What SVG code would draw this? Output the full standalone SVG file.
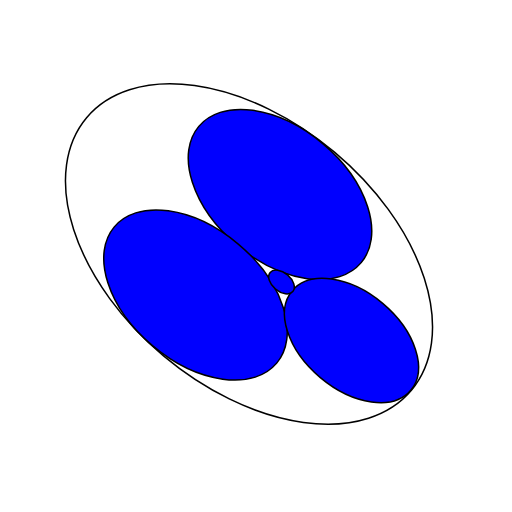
<svg xmlns="http://www.w3.org/2000/svg" width="512" height="512" viewBox="0 0 512 512">
<style>
.o{fill:none;stroke:#000;stroke-width:1.5}
.b{fill:#0000ff;stroke:#000;stroke-width:1.5}
</style>
<rect width="512" height="512" fill="#fff"/>
<ellipse class="o" cx="249" cy="254" rx="212" ry="133" transform="rotate(40 249 254)"/>
<ellipse class="b" cx="280" cy="194.5" rx="106" ry="66.5" transform="rotate(40 280 194.5)"/>
<ellipse class="b" cx="195.5" cy="295" rx="106" ry="66.5" transform="rotate(40 195.5 295)"/>
<ellipse class="b" cx="351.5" cy="340.5" rx="77.4" ry="48.5" transform="rotate(40 351.5 340.5)"/>
<ellipse class="b" cx="281.5" cy="282" rx="14.8" ry="9.3" transform="rotate(40 281.5 282)"/>
</svg>
